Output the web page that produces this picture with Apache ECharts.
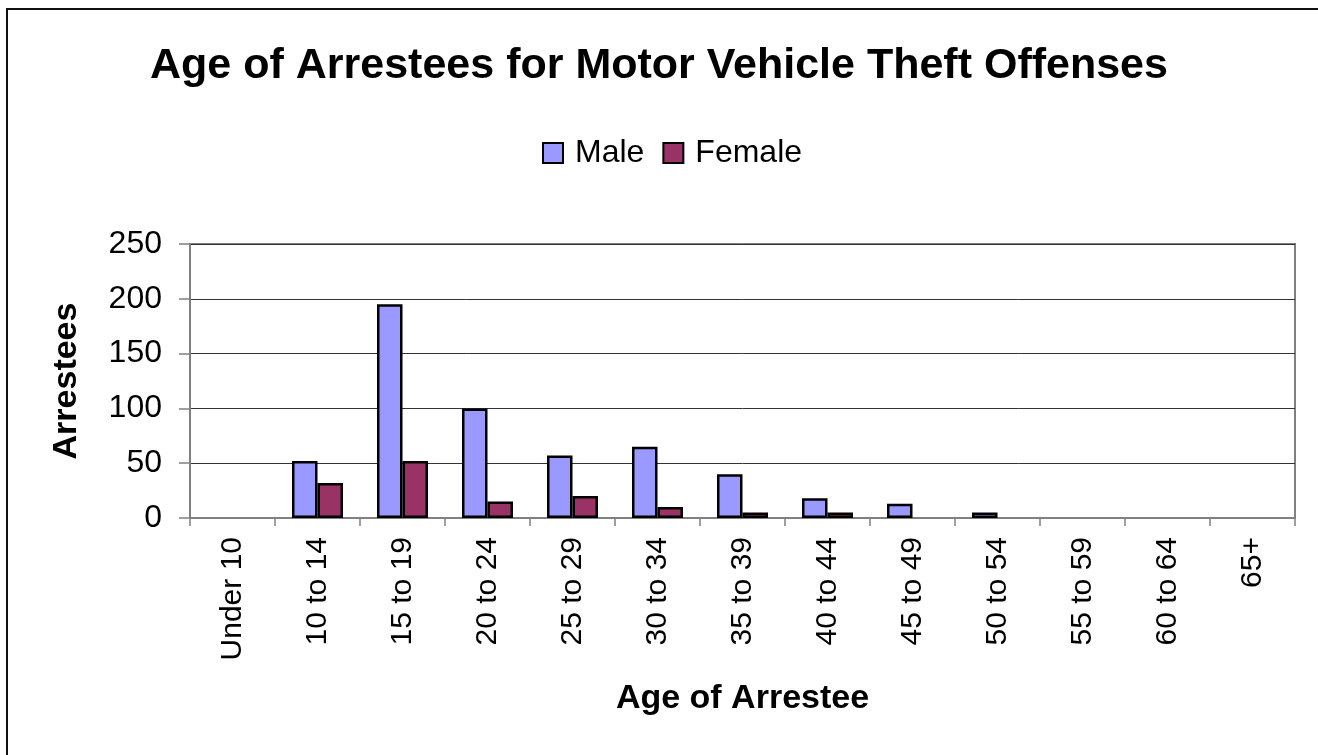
<!DOCTYPE html>
<html lang="en">
<head>
    <meta charset="UTF-8">
    <title>Age of Arrestees for Motor Vehicle Theft Offenses</title>
    <script src="https://cdn.jsdelivr.net/npm/echarts@6/dist/echarts.min.js"></script>
    <style>
        html, body { margin: 0; padding: 0; background: #fff; }
        #main { width: 1318px; height: 755px; }
    </style>
</head>
<body>
<div id="main"></div>
<script type="text/javascript">
    var ageGroups = ['Under 10', '10 to 14', '15 to 19', '20 to 24', '25 to 29', '30 to 34',
        '35 to 39', '40 to 44', '45 to 49', '50 to 54', '55 to 59', '60 to 64', '65+'];
    var maleCounts = [0, 52, 195, 100, 57, 65, 40, 18, 13, 5, 0, 0, 0];
    var femaleCounts = [0, 32, 52, 15, 20, 10, 5, 5, 0, 0, 0, 0, 0];
    var yTicks = [0, 50, 100, 150, 200, 250];

    var font = 'Arial, "Liberation Sans", sans-serif';

    // excel leaves empty bars out, so zero becomes '-'
    function toBars(arr) {
        return arr.map(function (v) { return v === 0 ? '-' : v; });
    }

    var myChart = echarts.init(document.getElementById('main'));
    myChart.setOption({
        backgroundColor: '#fff',
        animation: false,
        title: {
            text: 'Age of Arrestees for Motor Vehicle Theft Offenses',
            left: 'center',
            top: 40,
            textStyle: { fontFamily: font, fontSize: 43, fontWeight: 'bold', color: '#000' }
        },
        legend: {
            data: ['Male', 'Female'],
            left: 537,
            top: 132,
            icon: 'rect',
            itemWidth: 20,
            itemHeight: 20,
            itemGap: 18,
            itemStyle: { borderColor: '#000', borderWidth: 2 },
            textStyle: { fontFamily: font, fontSize: 32, color: '#000', padding: [0, 0, 0, 7] }
        },
        // chart frame, only its left and top edges are in the picture
        graphic: [{
            type: 'polyline',
            shape: { points: [[7, 800], [7, 9], [1400, 9]] },
            style: { fill: 'none', stroke: '#111', lineWidth: 2 },
            silent: true
        }],
        grid: {
            left: 190,
            right: 23,
            top: 244,
            bottom: 237,
            show: true,
            borderColor: '#808080',
            borderWidth: 2,
            backgroundColor: '#fff'
        },
        xAxis: {
            type: 'category',
            data: ageGroups,
            name: 'Age of Arrestee',
            nameLocation: 'middle',
            nameGap: 164,
            nameTextStyle: { fontFamily: font, fontSize: 34, fontWeight: 'bold', color: '#000' },
            axisLine: { lineStyle: { color: '#808080', width: 2 } },
            axisTick: { show: true, length: 8, lineStyle: { color: '#808080', width: 1.5 } },
            axisLabel: {
                interval: 0,
                rotate: 90,
                margin: 19,
                fontFamily: font,
                fontSize: 30,
                color: '#000'
            }
        },
        yAxis: {
            type: 'value',
            min: 0,
            max: yTicks[yTicks.length - 1],
            interval: yTicks[1] - yTicks[0],
            name: 'Arrestees',
            nameLocation: 'middle',
            nameRotate: 90,
            nameGap: 106,
            nameTextStyle: { fontFamily: font, fontSize: 34, fontWeight: 'bold', color: '#000' },
            axisLine: { show: true, lineStyle: { color: '#808080', width: 2 } },
            axisTick: { show: true, length: 11, lineStyle: { color: '#808080', width: 1.5 } },
            axisLabel: { margin: 28, fontFamily: font, fontSize: 32, color: '#000' },
            splitLine: { show: true, lineStyle: { color: '#333', width: 1 } }
        },
        series: [
            {
                name: 'Male',
                type: 'bar',
                barGap: '0%',
                barCategoryGap: '40%',
                itemStyle: { color: '#9999FF', borderColor: '#000', borderWidth: 2.5 },
                data: toBars(maleCounts)
            },
            {
                name: 'Female',
                type: 'bar',
                barGap: '0%',
                barCategoryGap: '40%',
                itemStyle: { color: '#993366', borderColor: '#000', borderWidth: 2.5 },
                data: toBars(femaleCounts)
            }
        ]
    });
</script>
</body>
</html>
